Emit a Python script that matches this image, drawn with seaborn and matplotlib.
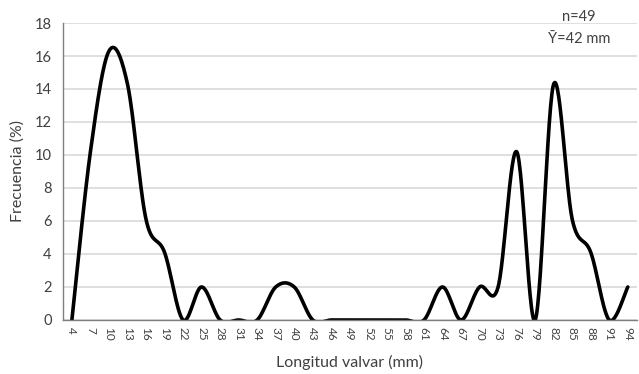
import numpy as np
import matplotlib
matplotlib.use("Agg")
import matplotlib.pyplot as plt
import seaborn as sns

# Datos: longitud valvar (mm) y frecuencia (%)
longitud = [4, 7, 10, 13, 16, 19, 22, 25, 28, 31, 34, 37, 40, 43, 46, 49,
            52, 55, 58, 61, 64, 67, 70, 73, 76, 79, 82, 85, 88, 91, 94]
frecuencia = [0, 10.2, 16.3, 14.3, 6.1, 4.1, 0, 2.0, 0, 0, 0, 2.0, 2.0, 0, 0, 0,
              0, 0, 0, 0, 2.0, 0, 2.0, 2.0, 10.2, 0, 14.3, 6.1, 4.1, 0, 2.0]
etiquetas = [str(v) for v in longitud]
texto_n = "n=49"
texto_media = "Ȳ=42 mm"


def curva_suave(x, y, pasos=30):
    # linea suavizada tipo Excel (Catmull-Rom con Bezier)
    x = np.asarray(x, float)
    y = np.asarray(y, float)
    px = np.concatenate([[x[0]], x, [x[-1]]])
    py = np.concatenate([[y[0]], y, [y[-1]]])
    xs, ys = [], []
    t = np.linspace(0, 1, pasos)
    for i in range(1, len(px) - 2):
        p0 = np.array([px[i], py[i]])
        p3 = np.array([px[i + 1], py[i + 1]])
        c1 = p0 + (p3 - np.array([px[i - 1], py[i - 1]])) / 6
        c2 = p3 - (np.array([px[i + 2], py[i + 2]]) - p0) / 6
        b = ((1 - t) ** 3)[:, None] * p0 + (3 * (1 - t) ** 2 * t)[:, None] * c1 \
            + (3 * (1 - t) * t ** 2)[:, None] * c2 + (t ** 3)[:, None] * p3
        xs.extend(b[:, 0])
        ys.extend(b[:, 1])
    return np.array(xs), np.array(ys)


sns.set_style("white")
plt.rcParams['font.family'] = ['Lato', 'DejaVu Sans']

fig = plt.figure(figsize=(6.39, 3.74), dpi=100)
ax = fig.add_axes([0.098, 0.1444, 0.899, 0.7941])

pos = np.arange(len(longitud))
xs, ys = curva_suave(pos, frecuencia)
sns.lineplot(x=xs, y=ys, sort=False, estimator=None, color='black',
             linewidth=2.6, ax=ax)

ax.set_xlim(-0.5, len(longitud) - 0.5)
ax.set_ylim(0, 18)
ax.set_yticks(np.arange(0, 19, 2))
ax.set_xticks(pos)
ax.set_xticklabels(etiquetas, rotation=-90, fontsize=8.5, color='#404040')
ax.set_xticks(np.arange(-0.5, len(longitud), 1), minor=True)
ax.tick_params(axis='x', which='major', length=0, pad=5)
ax.tick_params(axis='x', which='minor', length=4, width=1, color='#7f7f7f', direction='out')
ax.tick_params(axis='y', length=4, width=1, color='#7f7f7f', direction='out',
               labelsize=10.5, labelcolor='#404040', pad=4)

ax.grid(True, axis='y', color='#d9d9d9', linewidth=1.2)
ax.set_axisbelow(True)
for lado in ['top', 'right']:
    ax.spines[lado].set_visible(False)
for lado in ['left', 'bottom']:
    ax.spines[lado].set_color('#7f7f7f')
    ax.spines[lado].set_linewidth(1)

ax.set_xlabel('Longitud valvar (mm)', fontsize=11.5, color='#404040', labelpad=10)
ax.set_ylabel('Frecuencia (%)', fontsize=11.5, color='#404040', labelpad=7)

ax.text(0.906, 0.955, texto_n, transform=fig.transFigure, ha='center', va='center',
        fontsize=10.5, color='#404040')
ax.text(0.906, 0.896, texto_media, transform=fig.transFigure, ha='center', va='center',
        fontsize=10.5, color='#404040')

plt.savefig('out.png', dpi=100)
plt.close()
